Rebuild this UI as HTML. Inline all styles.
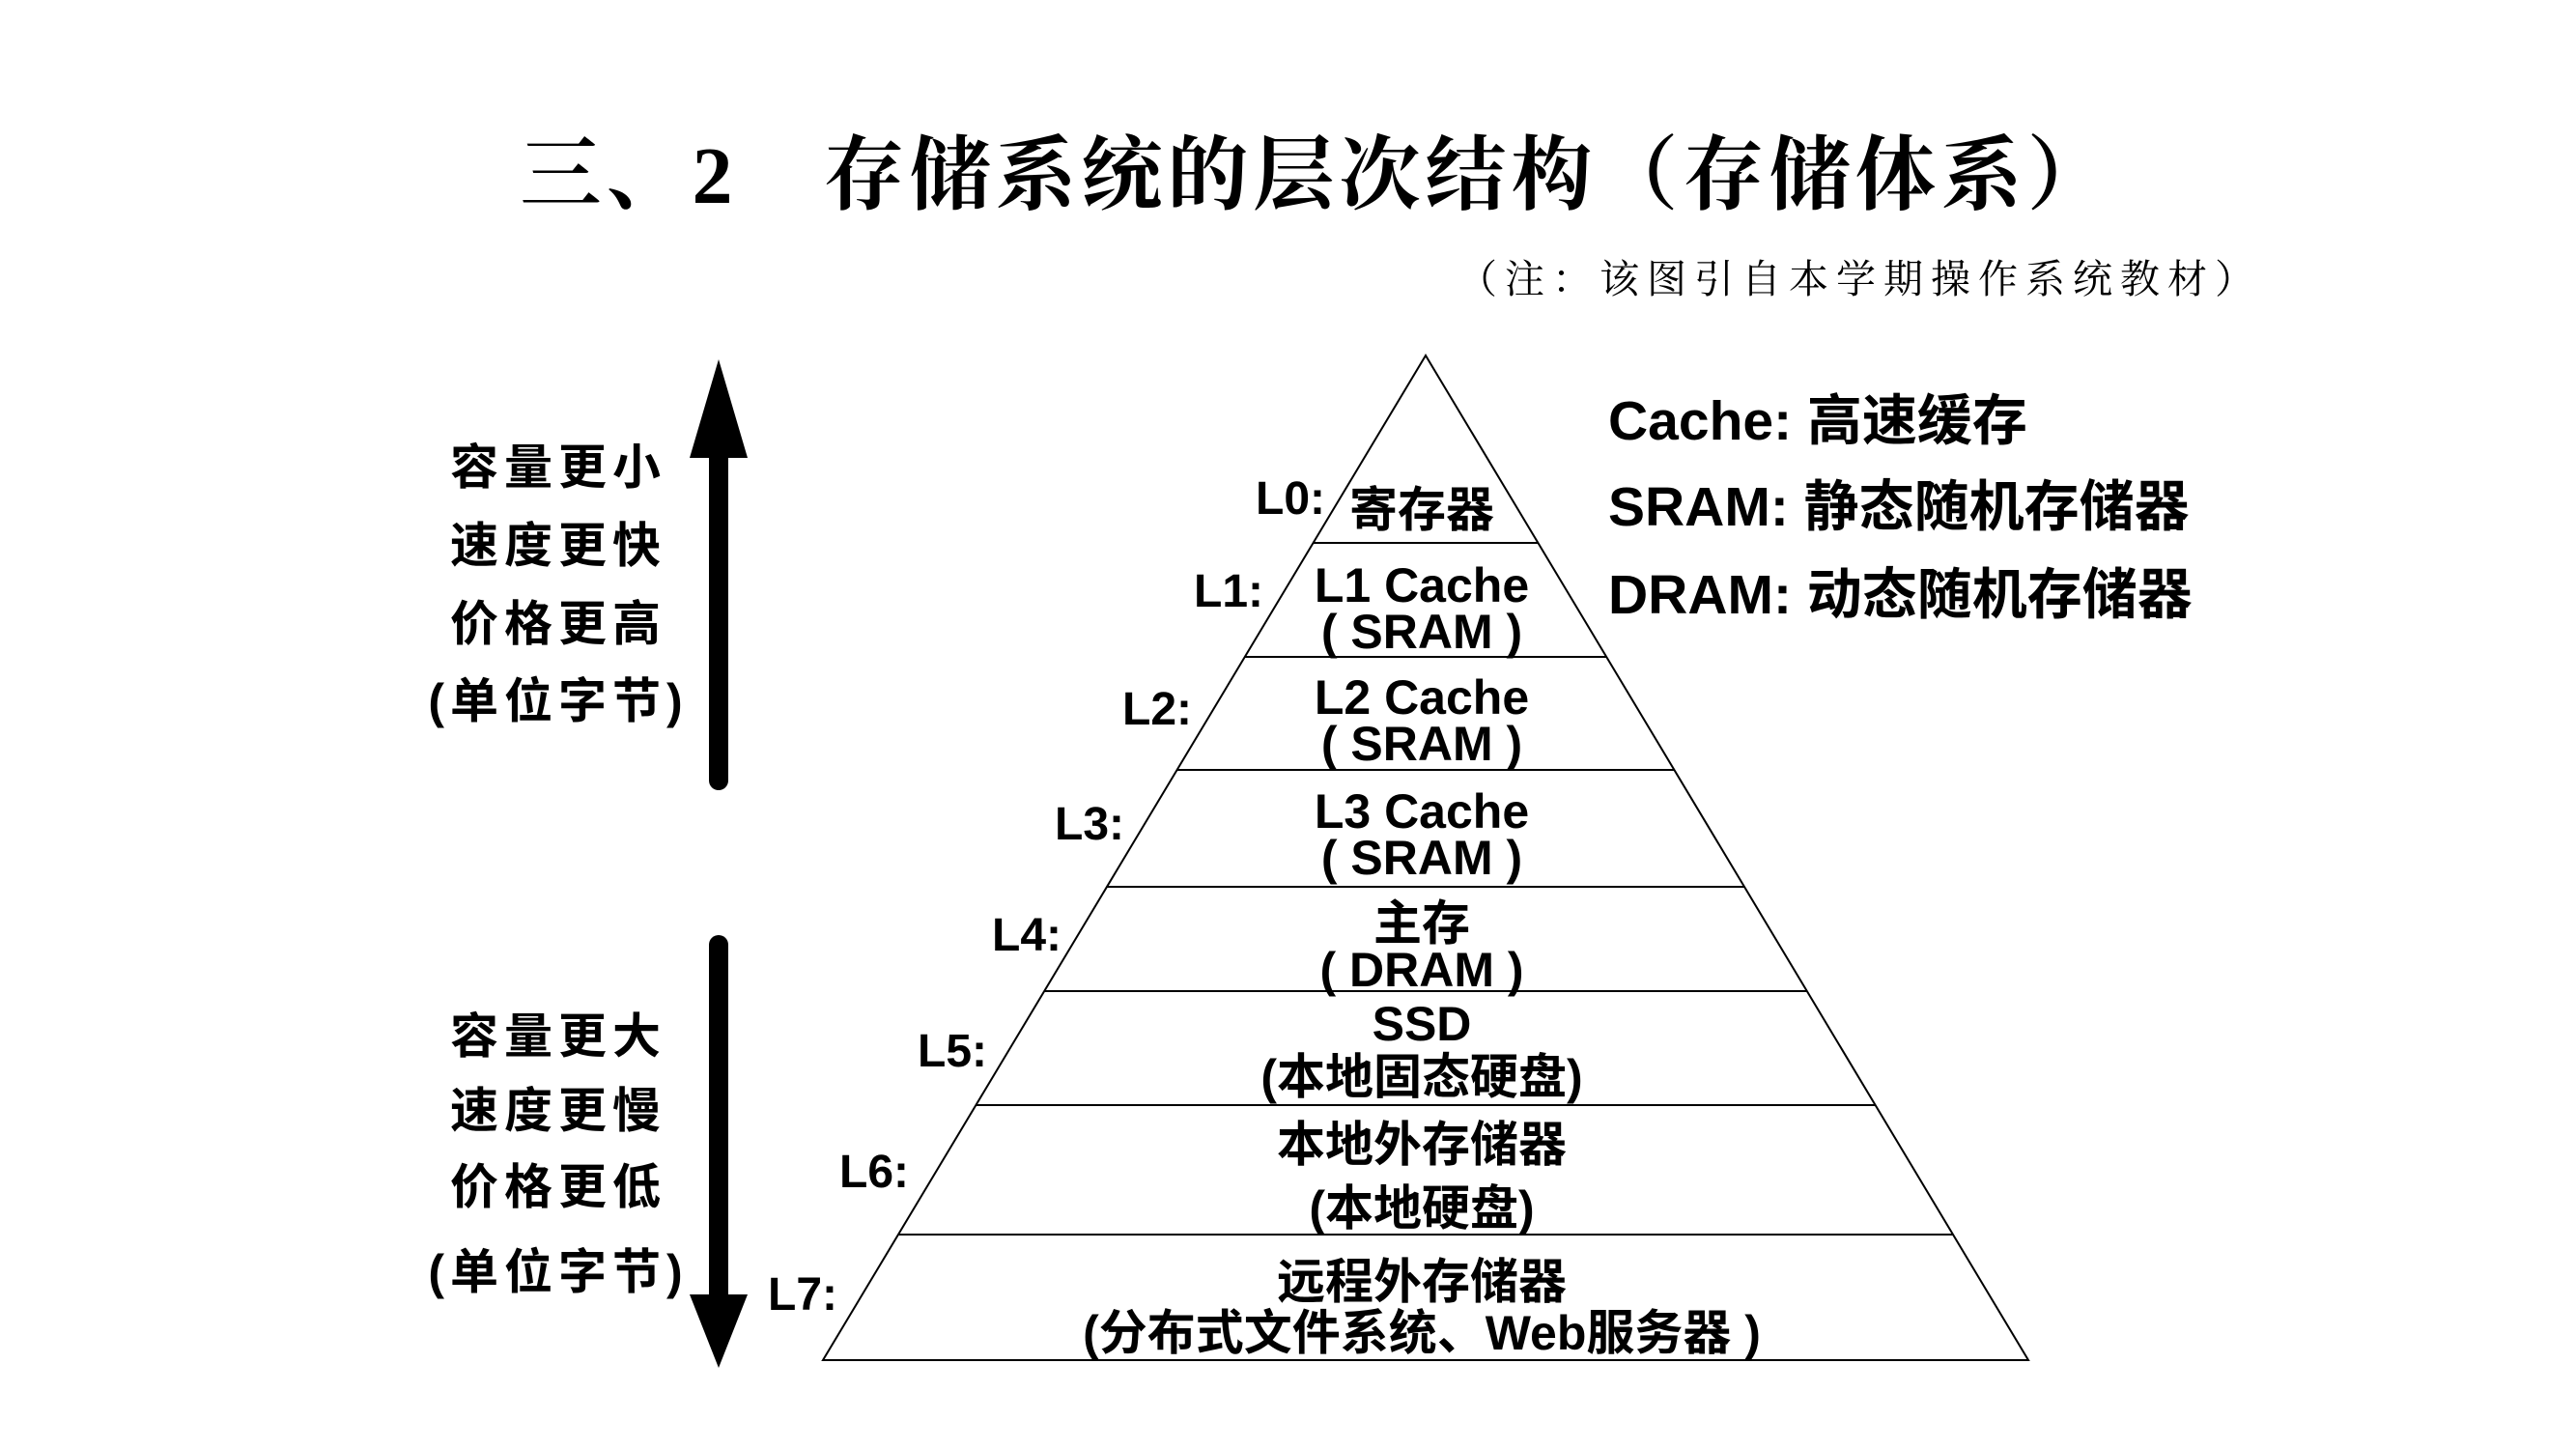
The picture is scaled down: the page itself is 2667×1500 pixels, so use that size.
<!DOCTYPE html>
<html><head><meta charset="utf-8"><style>
html,body{margin:0;padding:0;background:#fff;}
svg{display:block}
.t{font-family:"Liberation Sans","Noto Sans CJK SC",sans-serif;font-weight:bold;fill:#000}
.s{font-family:"Liberation Serif","Noto Serif CJK SC",serif;font-weight:bold;fill:#000}
</style></head><body>
<svg width="2667" height="1500" viewBox="0 0 2667 1500" xmlns="http://www.w3.org/2000/svg">
<rect width="2667" height="1500" fill="#fff"/>
<text class="s" x="1363" y="210" font-size="84" text-anchor="middle" letter-spacing="5">三、2　存储系统的层次结构（存储体系）</text>
<text class="s" x="2342" y="303" font-size="41" text-anchor="end" letter-spacing="8" style="font-weight:normal">（注：该图引自本学期操作系统教材）</text>

<g stroke="#000" stroke-width="2" fill="none">
<polygon points="1476,368 852,1408 2100,1408"/>
<line x1="1360" y1="562" x2="1592" y2="562"/>
<line x1="1289" y1="680" x2="1663" y2="680"/>
<line x1="1219" y1="797" x2="1733" y2="797"/>
<line x1="1146" y1="918" x2="1806" y2="918"/>
<line x1="1081" y1="1026" x2="1871" y2="1026"/>
<line x1="1010" y1="1144" x2="1942" y2="1144"/>
<line x1="930" y1="1278" x2="2022" y2="1278"/>
</g>

<g class="t" font-size="50" text-anchor="middle">
<text x="1472" y="545">寄存器</text>
<text x="1472" y="623">L1 Cache</text>
<text x="1472" y="671">( SRAM )</text>
<text x="1472" y="739">L2 Cache</text>
<text x="1472" y="787">( SRAM )</text>
<text x="1472" y="857">L3 Cache</text>
<text x="1472" y="905">( SRAM )</text>
<text x="1472" y="973">主存</text>
<text x="1472" y="1021">( DRAM )</text>
<text x="1472" y="1077">SSD</text>
<text x="1472" y="1132">(本地固态硬盘)</text>
<text x="1472" y="1202">本地外存储器</text>
<text x="1472" y="1268">(本地硬盘)</text>
<text x="1472" y="1344">远程外存储器</text>
<text x="1472" y="1397">(分布式文件系统、Web服务器 )</text>
</g>
<g class="t" font-size="48">
<text x="1300" y="532">L0:</text>
<text x="1236" y="628">L1:</text>
<text x="1162" y="750">L2:</text>
<text x="1092" y="869">L3:</text>
<text x="1027" y="984">L4:</text>
<text x="950" y="1104">L5:</text>
<text x="869" y="1229">L6:</text>
<text x="795" y="1356">L7:</text>
</g>

<g class="t" font-size="57">
<text x="1665" y="455">Cache: 高速缓存</text>
<text x="1665" y="544">SRAM: 静态随机存储器</text>
<text x="1665" y="635">DRAM: 动态随机存储器</text>
</g>

<line x1="744" y1="460" x2="744" y2="808" stroke="#000" stroke-width="20" stroke-linecap="round"/>
<polygon points="744,372 714,474 774,474" fill="#000"/>
<line x1="744" y1="978" x2="744" y2="1340" stroke="#000" stroke-width="20" stroke-linecap="round"/>
<polygon points="744,1416 714,1340 774,1340" fill="#000"/>

<g class="t" font-size="50" text-anchor="middle" letter-spacing="6">
<text x="578" y="501">容量更小</text>
<text x="578" y="582">速度更快</text>
<text x="578" y="663">价格更高</text>
<text x="578" y="743">(单位字节)</text>
<text x="578" y="1090">容量更大</text>
<text x="578" y="1167">速度更慢</text>
<text x="578" y="1246">价格更低</text>
<text x="578" y="1334">(单位字节)</text>
</g>
</svg>
</body></html>
